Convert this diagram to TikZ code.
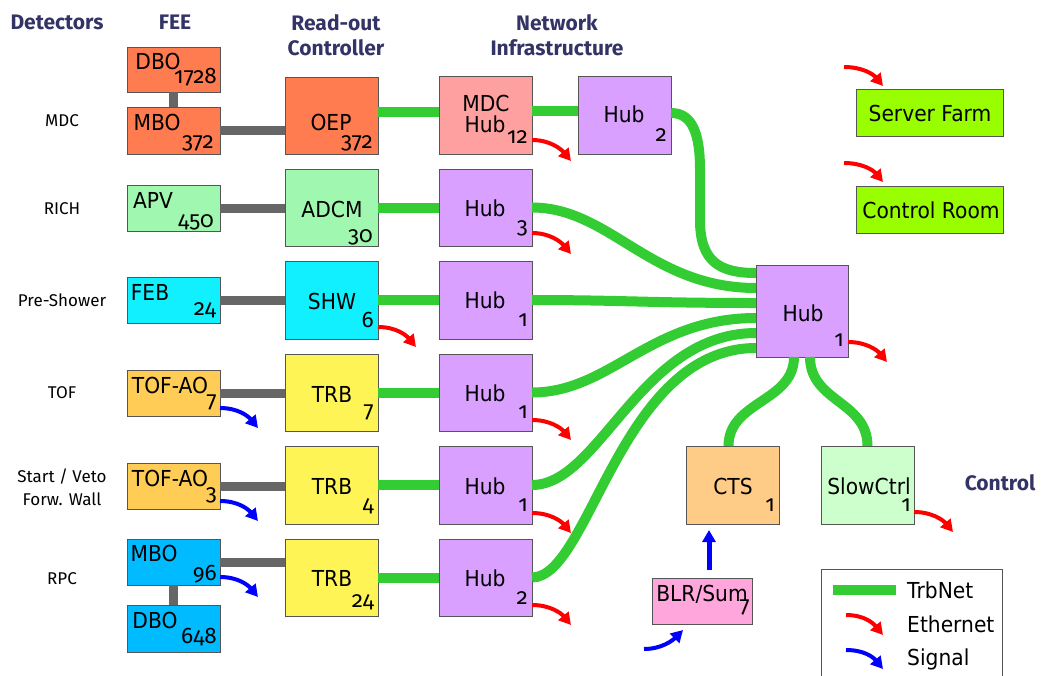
\documentclass[tikz,border=0pt]{standalone}
\usepackage{fontspec}
\setmainfont{DejaVu Sans}[FakeStretch=0.92]
\newfontfamily\numf{Fira Sans}[Numbers=OldStyle]
\newfontfamily\labf{Fira Sans}
\usetikzlibrary{arrows.meta}
\definecolor{mdcor}{HTML}{FF7B50}
\definecolor{mdchubc}{HTML}{FFA0A0}
\definecolor{hubc}{HTML}{D9A0FF}
\definecolor{richg}{HTML}{A0F8B0}
\definecolor{cyanb}{HTML}{10F0FF}
\definecolor{tofo}{HTML}{FFCC55}
\definecolor{trby}{HTML}{FFF455}
\definecolor{rpcb}{HTML}{00BBFF}
\definecolor{ctso}{HTML}{FFCC88}
\definecolor{slowg}{HTML}{CCFFCC}
\definecolor{blrp}{HTML}{FFA6DC}
\definecolor{farmg}{HTML}{99FF00}
\definecolor{netg}{HTML}{33CC33}
\definecolor{feeg}{HTML}{666666}
\definecolor{headc}{HTML}{333366}
\definecolor{bord}{HTML}{555555}
\newcommand\bxx[6]{\node[boxs, fill=#2, minimum width={(#5-#3)*1pt}, minimum height={(#6-#4)*1pt}] (#1) at ({(#3+#5)/2},{(#4+#6)/2}) {};}
\begin{document}
\begin{tikzpicture}[x=1pt,y=-1pt,
  boxs/.style={draw=bord, line width=0.9pt, inner sep=0pt, outer sep=0pt},
  txt/.style={font=\fontsize{22}{24}\selectfont, inner sep=0pt},
  num/.style={font=\numf\fontsize{22.5}{24}\selectfont, inner sep=0pt, anchor=base east},
  head/.style={font=\labf\bfseries\fontsize{21}{25}\selectfont, text=headc, align=center, inner sep=0pt},
  det/.style={font=\labf\fontsize{17}{23}\selectfont, align=center, inner sep=0pt},
  trbnet/.style={draw=netg, line width=10pt},
  feel/.style={draw=feeg, line width=9pt},
  eth/.style={draw=red, line width=4pt, -{Triangle[length=12pt,width=13pt]}},
  sig/.style={draw=blue, line width=4pt, -{Triangle[length=12pt,width=13pt]}}
]
\useasboundingbox (0,0) rectangle (1043,675);

% headings
\node[head] (hdet) at (57,22) {Detectors};
\node[head] (hfee) at (175,22) {FEE};
\node[head] (hroc) at (336,35) {Read-out\\Controller};
\node[head] (hnet) at (557,35) {Network\\Infrastructure};
\node[head] (hctl) at (1000,483) {Control};

% detector labels
\node[det] (dmdc) at (62,121) {MDC};
\node[det] (drich) at (62,209) {RICH};
\node[det] (dpre) at (62,300) {Pre-Shower};
\node[det] (dtof) at (62,393) {TOF};
\node[det] (dstart) at (62,487) {Start / Veto\\Forw. Wall};
\node[det] (drpc) at (62,579) {RPC};

% boxes
\bxx{dboA}{mdcor}{127}{47}{220}{92}
\bxx{mboA}{mdcor}{127}{107}{220}{154}
\bxx{oep}{mdcor}{285}{77}{378}{154}
\bxx{mdchub}{mdchubc}{439}{76}{532}{154}
\bxx{hubtop}{hubc}{578}{76}{671}{154}
\bxx{apv}{richg}{127}{185}{220}{231}
\bxx{adcm}{richg}{285}{169}{378}{246}
\bxx{hubr}{hubc}{439}{169}{532}{246}
\bxx{feb}{cyanb}{127}{277}{220}{323}
\bxx{shw}{cyanb}{285}{261}{378}{339}
\bxx{hubp}{hubc}{439}{261}{532}{339}
\bxx{tofA}{tofo}{127}{370}{220}{416}
\bxx{trbA}{trby}{285}{354}{378}{431}
\bxx{hubt}{hubc}{439}{354}{532}{431}
\bxx{tofB}{tofo}{127}{463}{220}{509}
\bxx{trbB}{trby}{285}{446}{378}{524}
\bxx{hubs}{hubc}{439}{446}{532}{524}
\bxx{mboB}{rpcb}{127}{539}{220}{585}
\bxx{dboB}{rpcb}{127}{605}{220}{652}
\bxx{trbC}{trby}{285}{539}{378}{616}
\bxx{hubrpc}{hubc}{439}{539}{532}{616}
\bxx{hubmain}{hubc}{756}{265}{848}{357}
\bxx{cts}{ctso}{686}{446}{779}{524}
\bxx{slow}{slowg}{821}{446}{914}{524}
\bxx{blr}{blrp}{652}{578}{752}{624}
\bxx{farm}{farmg}{856}{89}{1003}{136}
\bxx{croom}{farmg}{856}{186}{1003}{233}

% box texts
\node[txt] (dboA-t) at (158,61) {DBO};
\node[num] (dboA-n) at (217,83) {1728};
\node[txt] (mboA-t) at (157,122) {MBO};
\node[num] (mboA-n) at (214,148) {372};
\node[txt] (oep-t) at (331,122) {OEP};
\node[num] (oep-n) at (373,148) {372};
\node[txt] (mdchub-t1) at (486,103) {MDC};
\node[txt] (mdchub-t2) at (485,124) {Hub};
\node[num] (mdchub-n) at (528,143) {12};
\node[txt] (hubtop-t) at (624,114) {Hub};
\node[num] (hubtop-n) at (667,141) {2};
\node[txt] (apv-t) at (153,200) {APV};
\node[num] (apv-n) at (214,227) {450};
\node[txt] (adcm-t) at (332,209) {ADCM};
\node[num] (adcm-n) at (373,242) {30};
\node[txt] (hubr-t) at (485,208) {Hub};
\node[num] (hubr-n) at (528,233) {3};
\node[txt] (feb-t) at (150,292) {FEB};
\node[num] (feb-n) at (216,315) {24};
\node[txt] (shw-t) at (332,301) {SHW};
\node[num] (shw-n) at (374,327) {6};
\node[txt] (hubp-t) at (485,300) {Hub};
\node[num] (hubp-n) at (528,326) {1};
\node[txt] (tofA-t) at (170,385) {TOF-AO};
\node[num] (tofA-n) at (217,407) {7};
\node[txt] (trbA-t) at (332,394) {TRB};
\node[num] (trbA-n) at (374,417) {7};
\node[txt] (hubt-t) at (485,393) {Hub};
\node[num] (hubt-n) at (528,418) {1};
\node[txt] (tofB-t) at (170,478) {TOF-AO};
\node[num] (tofB-n) at (217,500) {3};
\node[txt] (trbB-t) at (332,486) {TRB};
\node[num] (trbB-n) at (374,511) {4};
\node[txt] (hubs-t) at (485,486) {Hub};
\node[num] (hubs-n) at (528,511) {1};
\node[txt] (mboB-t) at (154,553) {MBO};
\node[num] (mboB-n) at (217,580) {96};
\node[txt] (dboB-t) at (155,620) {DBO};
\node[num] (dboB-n) at (217,643) {648};
\node[txt] (trbC-t) at (332,578) {TRB};
\node[num] (trbC-n) at (374,607) {24};
\node[txt] (hubrpc-t) at (485,578) {Hub};
\node[num] (hubrpc-n) at (528,604) {2};
\node[txt] (hubmain-t) at (803,313) {Hub};
\node[num] (hubmain-n) at (844,346) {1};
\node[txt] (cts-t) at (733,486) {CTS};
\node[num] (cts-n) at (775,511) {1};
\node[txt] (slow-t) at (869,486) {SlowCtrl};
\node[num] (slow-n) at (911,511) {1};
\node[txt] (blr-t) at (702,594) {BLR/Sum};
\node[num] (blr-n) at (750,612) {7};
\node[txt] (farm-t) at (930,113) {Server Farm};
\node[txt] (croom-t) at (931,210) {Control Room};

% FEE (gray) links
\draw[feel] (dboA.south) -- (mboA.north);
\draw[feel] (mboA.east) -- (mboA.east -| oep.west);
\draw[feel] (apv.east) -- (apv.east -| adcm.west);
\draw[feel] (feb.east) -- (feb.east -| shw.west);
\draw[feel] (tofA.east) -- (tofA.east -| trbA.west);
\draw[feel] (tofB.east) -- (tofB.east -| trbB.west);
\draw[feel] (mboB.east) -- (mboB.east -| trbC.west);
\draw[feel] (mboB.south) -- (dboB.north);

% TrbNet links
\draw[trbnet] ([yshift=4pt]oep.east) -- ([yshift=4pt]oep.east -| mdchub.west);
\draw[trbnet] ([yshift=4pt]mdchub.east) -- ([yshift=4pt]mdchub.east -| hubtop.west);
\draw[trbnet] (adcm.east) -- (hubr.west);
\draw[trbnet] (shw.east) -- (hubp.west);
\draw[trbnet] (trbA.east) -- (hubt.west);
\draw[trbnet] (trbB.east) -- (hubs.west);
\draw[trbnet] (trbC.east) -- (hubrpc.west);

\coordinate (bendA) at (700,170);
\coordinate (bendB) at (700,220);
\draw[trbnet] ([yshift=2pt]hubtop.east) .. controls +(22,0) and +(0,-35) .. (bendA) -- (bendB) .. controls +(0,42) and +(-36,0) .. ([yshift=38pt]hubmain.west);
\draw[trbnet] (hubr.east) .. controls +(78,0) and +(-106,0) .. ([yshift=23pt]hubmain.west);
\draw[trbnet] (hubp.east) .. controls +(88,0) and +(-106,0) .. ([yshift=8pt]hubmain.west);
\draw[trbnet] (hubt.east) .. controls +(78,0) and +(-106,0) .. ([yshift=-7pt]hubmain.west);
\draw[trbnet] (hubs.east) .. controls +(68,0) and +(-116,0) .. ([yshift=-22pt]hubmain.west);
\draw[trbnet] (hubrpc.east) .. controls +(58,0) and +(-136,0) .. ([yshift=-37pt]hubmain.west);
\draw[trbnet] ([xshift=-8pt]hubmain.south) .. controls +(0,45) and +(0,-45) .. ([xshift=-4pt]cts.north);
\draw[trbnet] ([xshift=8pt]hubmain.south) .. controls +(0,45) and +(0,-45) .. (slow.north);

% Ethernet arrows
\draw[eth] ([yshift=14pt]mdchub.south east) .. controls +(18,0) and +(-10,-12) .. +(39,21);
\draw[eth] ([yshift=13pt]hubr.south east) .. controls +(18,0) and +(-10,-12) .. +(39,21);
\draw[eth] ([yshift=12pt]shw.south east) .. controls +(18,0) and +(-10,-12) .. +(38,20);
\draw[eth] ([yshift=11pt]hubt.south east) .. controls +(18,0) and +(-10,-12) .. +(39,20);
\draw[eth] ([yshift=11pt]hubs.south east) .. controls +(18,0) and +(-10,-12) .. +(39,20);
\draw[eth] ([yshift=11pt]hubrpc.south east) .. controls +(18,0) and +(-10,-12) .. +(39,20);
\draw[eth] ([yshift=15pt]hubmain.south east) .. controls +(18,0) and +(-10,-12) .. +(39,20);
\draw[eth] ([yshift=12pt]slow.south east) .. controls +(18,0) and +(-10,-12) .. +(39,20);
\draw[eth] ([xshift=-12pt,yshift=22pt]farm.north west) .. controls +(18,0) and +(-10,-12) .. +(39,19);
\draw[eth] ([xshift=-12pt,yshift=23pt]croom.north west) .. controls +(18,0) and +(-10,-12) .. +(39,19);

% Signal arrows
\draw[sig] ([yshift=8pt]tofA.south east) .. controls +(18,0) and +(-10,-12) .. +(38,20);
\draw[sig] ([yshift=8pt]tofB.south east) .. controls +(18,0) and +(-10,-12) .. +(38,20);
\draw[sig] ([yshift=8pt]mboB.south east) .. controls +(18,0) and +(-10,-12) .. +(38,20);
\draw[sig] ([xshift=-8pt,yshift=-25pt]blr.south west) .. controls +(18,0) and +(-10,10) .. +(39,-19);
\draw[sig, line width=5pt] ([xshift=7pt,yshift=8pt]blr.north) -- ([xshift=7pt,yshift=-6pt]blr.north |- cts.south);

% legend
\coordinate (lgA) at (821,676);
\coordinate (lgB) at (1002,676);
\draw[draw=bord, line width=0.9pt] (lgA) |- (1002,569) -- (lgB);
\coordinate (lgT1) at (833,590);
\coordinate (lgT2) at (896,590);
\draw[trbnet] (lgT1) -- (lgT2);
\coordinate (lgE) at (846,615);
\draw[eth] (lgE) .. controls +(18,0) and +(-10,-12) .. +(37,20);
\coordinate (lgS) at (846,650);
\draw[sig] (lgS) .. controls +(18,0) and +(-10,-12) .. +(37,19);
\node[txt, anchor=base west] (lg-trb) at (907,598) {TrbNet};
\node[txt, anchor=base west] (lg-eth) at (907,632) {Ethernet};
\node[txt, anchor=base west] (lg-sig) at (907,665) {Signal};
\end{tikzpicture}
\end{document}
